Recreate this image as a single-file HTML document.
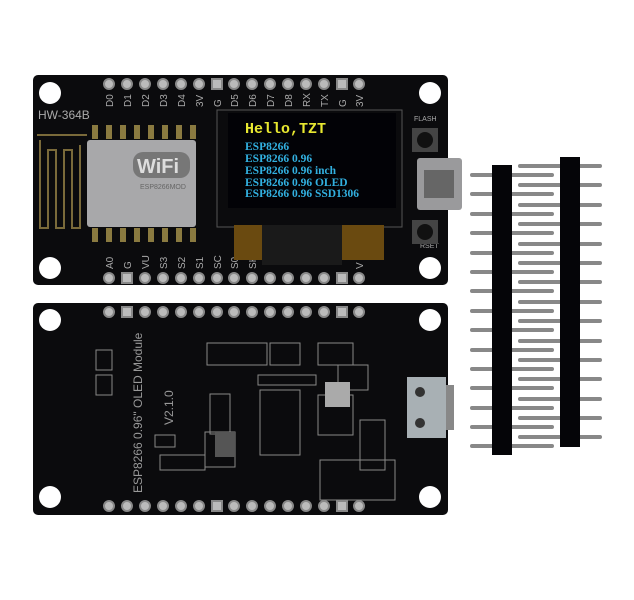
<!DOCTYPE html>
<html><head><style>html,body{margin:0;padding:0;background:#fff;width:634px;height:600px;overflow:hidden}</style></head>
<body>
<svg width="634" height="600" xmlns="http://www.w3.org/2000/svg" font-family="Liberation Sans, sans-serif">
<rect width="634" height="600" fill="#fff"/>
<!-- headers -->
<g fill="#888">
<rect x="470" y="173" width="84" height="4" rx="2"/><rect x="470" y="192" width="84" height="4" rx="2"/><rect x="470" y="212" width="84" height="4" rx="2"/><rect x="470" y="231" width="84" height="4" rx="2"/><rect x="470" y="251" width="84" height="4" rx="2"/><rect x="470" y="270" width="84" height="4" rx="2"/><rect x="470" y="289" width="84" height="4" rx="2"/><rect x="470" y="309" width="84" height="4" rx="2"/><rect x="470" y="328" width="84" height="4" rx="2"/><rect x="470" y="348" width="84" height="4" rx="2"/><rect x="470" y="367" width="84" height="4" rx="2"/><rect x="470" y="386" width="84" height="4" rx="2"/><rect x="470" y="406" width="84" height="4" rx="2"/><rect x="470" y="425" width="84" height="4" rx="2"/><rect x="470" y="444" width="84" height="4" rx="2"/>
<rect x="518" y="164" width="84" height="4" rx="2"/><rect x="518" y="183" width="84" height="4" rx="2"/><rect x="518" y="203" width="84" height="4" rx="2"/><rect x="518" y="222" width="84" height="4" rx="2"/><rect x="518" y="242" width="84" height="4" rx="2"/><rect x="518" y="261" width="84" height="4" rx="2"/><rect x="518" y="280" width="84" height="4" rx="2"/><rect x="518" y="300" width="84" height="4" rx="2"/><rect x="518" y="319" width="84" height="4" rx="2"/><rect x="518" y="339" width="84" height="4" rx="2"/><rect x="518" y="358" width="84" height="4" rx="2"/><rect x="518" y="377" width="84" height="4" rx="2"/><rect x="518" y="397" width="84" height="4" rx="2"/><rect x="518" y="416" width="84" height="4" rx="2"/><rect x="518" y="435" width="84" height="4" rx="2"/>
</g>
<rect x="492" y="165" width="20" height="290" fill="#050508"/>
<rect x="560" y="157" width="20" height="290" fill="#050508"/>

<!-- top board -->
<rect x="33" y="75" width="415" height="210" rx="5" fill="#0b0b0d"/>
<g fill="#fff"><circle cx="50" cy="93" r="11"/><circle cx="430" cy="93" r="11"/><circle cx="50" cy="268" r="11"/><circle cx="430" cy="268" r="11"/></g>
<g fill="#bbb" stroke="#888" stroke-width="2">
<circle cx="109" cy="84" r="5"/><circle cx="127" cy="84" r="5"/><circle cx="145" cy="84" r="5"/><circle cx="163" cy="84" r="5"/><circle cx="181" cy="84" r="5"/><circle cx="199" cy="84" r="5"/><rect x="212" y="79" width="10" height="10"/><circle cx="234" cy="84" r="5"/><circle cx="252" cy="84" r="5"/><circle cx="270" cy="84" r="5"/><circle cx="288" cy="84" r="5"/><circle cx="306" cy="84" r="5"/><circle cx="324" cy="84" r="5"/><rect x="337" y="79" width="10" height="10"/><circle cx="359" cy="84" r="5"/>
<circle cx="109" cy="278" r="5"/><rect x="122" y="273" width="10" height="10"/><circle cx="145" cy="278" r="5"/><circle cx="163" cy="278" r="5"/><circle cx="181" cy="278" r="5"/><circle cx="199" cy="278" r="5"/><circle cx="217" cy="278" r="5"/><circle cx="234" cy="278" r="5"/><circle cx="252" cy="278" r="5"/><circle cx="270" cy="278" r="5"/><circle cx="288" cy="278" r="5"/><circle cx="306" cy="278" r="5"/><circle cx="324" cy="278" r="5"/><rect x="337" y="273" width="10" height="10"/><circle cx="359" cy="278" r="5"/>
</g>
<g fill="#aaa" font-size="10">
<g transform="rotate(-90)">
<text x="-107" y="113">D0</text><text x="-107" y="131">D1</text><text x="-107" y="149">D2</text><text x="-107" y="167">D3</text><text x="-107" y="185">D4</text><text x="-107" y="203">3V</text><text x="-107" y="221">G</text><text x="-107" y="238">D5</text><text x="-107" y="256">D6</text><text x="-107" y="274">D7</text><text x="-107" y="292">D8</text><text x="-107" y="310">RX</text><text x="-107" y="328">TX</text><text x="-107" y="346">G</text><text x="-107" y="363">3V</text>
<text x="-269" y="113">A0</text><text x="-269" y="131">G</text><text x="-269" y="149">VU</text><text x="-269" y="167">S3</text><text x="-269" y="185">S2</text><text x="-269" y="203">S1</text><text x="-269" y="221">SC</text><text x="-269" y="238">S0</text><text x="-269" y="256">SK</text><text x="-269" y="363">V</text>
</g>
<text x="38" y="119" font-size="12">HW-364B</text>
<text x="414" y="121" font-size="7">FLASH</text><text x="420" y="248" font-size="7">RSET</text>
</g>
<!-- antenna -->
<path d="M37 135 H87 M40 140 V228 H48 V150 H56 V228 H64 V150 H72 V228 H80 V145" stroke="#7a6a3a" stroke-width="2" fill="none"/>
<g fill="#8a7a40"><rect x="92" y="125" width="6" height="14"/><rect x="106" y="125" width="6" height="14"/><rect x="120" y="125" width="6" height="14"/><rect x="134" y="125" width="6" height="14"/><rect x="148" y="125" width="6" height="14"/><rect x="162" y="125" width="6" height="14"/><rect x="176" y="125" width="6" height="14"/><rect x="190" y="125" width="6" height="14"/>
<rect x="92" y="228" width="6" height="14"/><rect x="106" y="228" width="6" height="14"/><rect x="120" y="228" width="6" height="14"/><rect x="134" y="228" width="6" height="14"/><rect x="148" y="228" width="6" height="14"/><rect x="162" y="228" width="6" height="14"/><rect x="176" y="228" width="6" height="14"/><rect x="190" y="228" width="6" height="14"/></g>
<rect x="87" y="140" width="109" height="87" rx="3" fill="#a8a8aa"/>
<rect x="133" y="152" width="57" height="26" rx="10" fill="#777"/>
<text x="137" y="173" font-size="20" font-weight="bold" fill="#ddd">WiFi</text>
<text x="140" y="189" font-size="7" fill="#666">ESP8266MOD</text>
<!-- OLED -->
<rect x="217" y="110" width="185" height="117" fill="none" stroke="#555"/>
<rect x="234" y="225" width="150" height="35" fill="#6a4a10"/>
<rect x="262" y="225" width="80" height="40" fill="#1a1a1a"/>
<rect x="228" y="113" width="168" height="95" fill="#020206"/>
<text x="245" y="133" font-family="Liberation Mono, monospace" font-weight="bold" font-size="15" fill="#e8e830">Hello,TZT</text>
<g font-family="Liberation Serif, serif" font-weight="bold" font-size="11.5" fill="#32b0e0">
<text x="245" y="150">ESP8266</text><text x="245" y="162">ESP8266 0.96</text><text x="245" y="174">ESP8266 0.96 inch</text><text x="245" y="186">ESP8266 0.96 OLED</text><text x="245" y="197">ESP8266 0.96 SSD1306</text>
</g>
<!-- buttons & usb -->
<rect x="412" y="128" width="26" height="24" fill="#444"/><circle cx="425" cy="140" r="8" fill="#111"/>
<rect x="412" y="220" width="26" height="24" fill="#444"/><circle cx="425" cy="232" r="8" fill="#111"/>
<rect x="417" y="158" width="45" height="52" rx="3" fill="#9a9a9c"/><rect x="424" y="170" width="30" height="28" fill="#666"/>

<!-- bottom board -->
<rect x="33" y="303" width="415" height="212" rx="5" fill="#0b0b0d"/>
<g fill="#fff"><circle cx="50" cy="320" r="11"/><circle cx="430" cy="320" r="11"/><circle cx="50" cy="497" r="11"/><circle cx="430" cy="497" r="11"/></g>
<g fill="#bbb" stroke="#888" stroke-width="2">
<circle cx="109" cy="312" r="5"/><rect x="122" y="307" width="10" height="10"/><circle cx="145" cy="312" r="5"/><circle cx="163" cy="312" r="5"/><circle cx="181" cy="312" r="5"/><circle cx="199" cy="312" r="5"/><circle cx="217" cy="312" r="5"/><circle cx="234" cy="312" r="5"/><circle cx="252" cy="312" r="5"/><circle cx="270" cy="312" r="5"/><circle cx="288" cy="312" r="5"/><circle cx="306" cy="312" r="5"/><circle cx="324" cy="312" r="5"/><rect x="337" y="307" width="10" height="10"/><circle cx="359" cy="312" r="5"/>
<circle cx="109" cy="506" r="5"/><circle cx="127" cy="506" r="5"/><circle cx="145" cy="506" r="5"/><circle cx="163" cy="506" r="5"/><circle cx="181" cy="506" r="5"/><circle cx="199" cy="506" r="5"/><rect x="212" y="501" width="10" height="10"/><circle cx="234" cy="506" r="5"/><circle cx="252" cy="506" r="5"/><circle cx="270" cy="506" r="5"/><circle cx="288" cy="506" r="5"/><circle cx="306" cy="506" r="5"/><circle cx="324" cy="506" r="5"/><rect x="337" y="501" width="10" height="10"/><circle cx="359" cy="506" r="5"/>
</g>
<g fill="#999" font-size="12" transform="rotate(-90)">
<text x="-493" y="142">ESP8266  0.96" OLED Module</text>
<text x="-425" y="173">V2.1.0</text>
</g>
<g fill="none" stroke="#888" stroke-width="1">
<rect x="96" y="350" width="16" height="20"/><rect x="96" y="375" width="16" height="20"/>
<rect x="207" y="343" width="60" height="22"/><rect x="270" y="343" width="30" height="22"/><rect x="318" y="343" width="35" height="22"/>
<rect x="210" y="394" width="20" height="40"/><rect x="205" y="432" width="30" height="35"/>
<rect x="258" y="375" width="58" height="10"/><rect x="260" y="390" width="40" height="65"/>
<rect x="318" y="395" width="35" height="40"/><rect x="338" y="365" width="30" height="25"/>
<rect x="360" y="420" width="25" height="50"/><rect x="320" y="460" width="75" height="40"/>
<rect x="155" y="435" width="20" height="12"/><rect x="160" y="455" width="45" height="15"/>
</g>
<rect x="215" y="432" width="20" height="25" fill="#555"/>
<rect x="325" y="382" width="25" height="25" fill="#aaa"/>
<rect x="407" y="377" width="39" height="61" fill="#a8b0b4"/><rect x="446" y="385" width="8" height="45" fill="#888"/>
<circle cx="420" cy="392" r="5" fill="#333"/><circle cx="420" cy="423" r="5" fill="#333"/>
</svg>
</body></html>
